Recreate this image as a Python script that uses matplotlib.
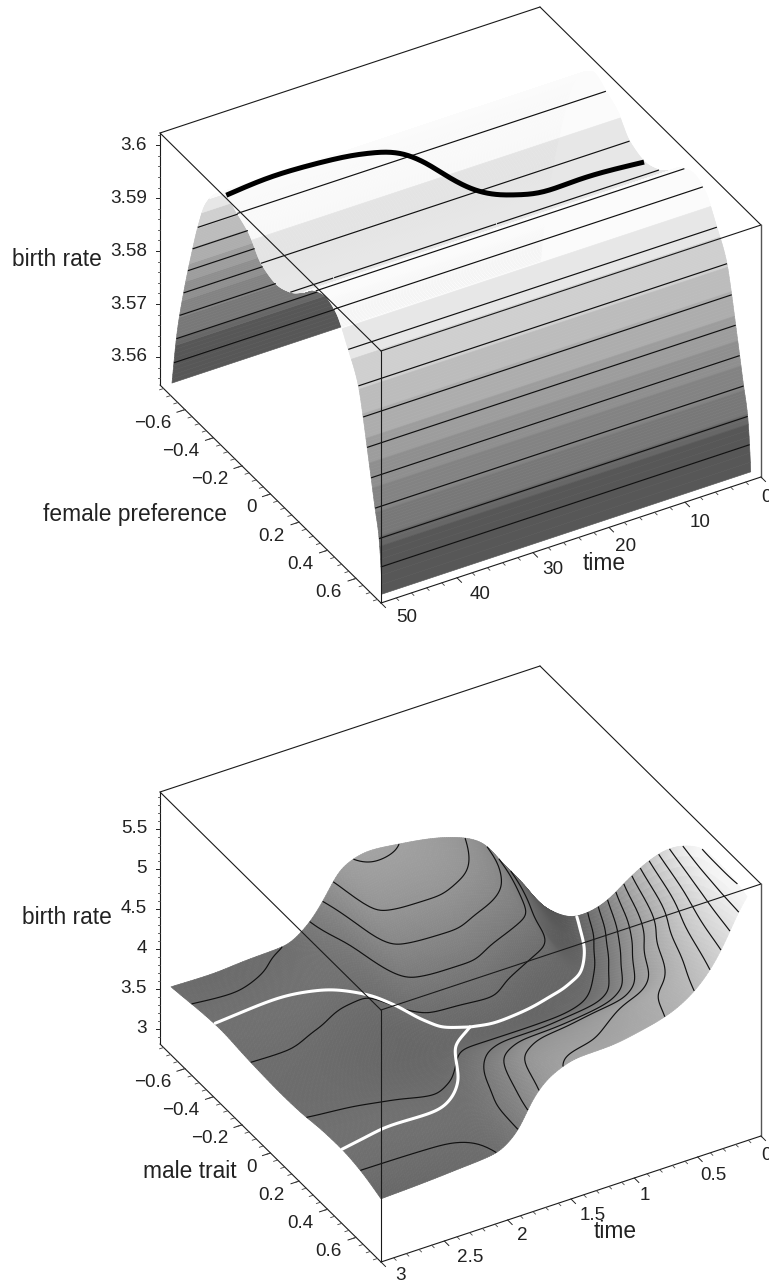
import numpy as np
import matplotlib
matplotlib.use("Agg")
import matplotlib.pyplot as plt
from matplotlib.collections import PolyCollection, LineCollection
from contourpy import contour_generator

plt.rcParams['font.family'] = ['Liberation Sans', 'DejaVu Sans']

# ---------- data: upper panel ----------
pref_values = [0.783, 0.775, 0.761, 0.733, 0.705, 0.677, 0.649, 0.614, 0.547, 0.456, 0.388, 0.301, 0.217,
               0.133, 0.039, -0.062, -0.155, -0.233, -0.31, -0.372, -0.459, -0.508, -0.558, -0.606, -0.656, -0.691]
rate_by_pref = [3.5566, 3.5615, 3.5668, 3.5715, 3.5766, 3.5816, 3.5866, 3.5918, 3.5964, 3.6013, 3.6023, 3.6012,
                3.5985, 3.5964, 3.5954, 3.5964, 3.6, 3.6015, 3.6028, 3.6015, 3.5971, 3.5918, 3.5847, 3.5771,
                3.5676, 3.5573]
top_time_range = [50, 1.5]
top_levels = [3.5615, 3.5665, 3.5715, 3.5765, 3.5815, 3.5865, 3.5915, 3.5965, 3.6015]
thick_time = [50, 43.4, 36.05, 31.6, 29.35, 27.85, 24.85, 22.3, 19.5, 15.15, 9.6, 0.85]
thick_pref = [-0.31, -0.279, -0.248, -0.233, -0.186, -0.124, -0.062, 0.0, 0.047, 0.047, 0.031, 0.0]
thick_rate = [3.6029, 3.6048, 3.6051, 3.6043, 3.6043, 3.6039, 3.6004, 3.5985, 3.5979, 3.5962, 3.5960, 3.5940]

# ---------- data: lower panel ----------
low_times = [3, 2.7, 2.4, 2.1, 1.92, 1.8, 1.65, 1.44, 1.2, 0.96, 0.72, 0.54, 0.39, 0.27, 0.18, 0.11]
low_traits = [0.775, 0.635, 0.496, 0.357, 0.217, 0.078, -0.062, -0.202, -0.341, -0.481, -0.62, -0.698]
low_rate = [
    [3.60, 3.70, 3.74, 3.73, 3.69, 3.68, 3.69, 3.71, 3.74, 3.72, 3.68, 3.66],
    [3.62, 3.70, 3.74, 3.73, 3.68, 3.67, 3.68, 3.72, 3.75, 3.72, 3.67, 3.65],
    [3.65, 3.70, 3.75, 3.72, 3.66, 3.64, 3.65, 3.70, 3.76, 3.74, 3.69, 3.68],
    [3.69, 3.72, 3.74, 3.70, 3.64, 3.60, 3.62, 3.66, 3.74, 3.78, 3.74, 3.70],
    [3.88, 3.88, 3.80, 3.73, 3.64, 3.60, 3.60, 3.66, 3.73, 3.80, 3.85, 3.87],
    [4.22, 4.06, 3.94, 3.82, 3.68, 3.60, 3.62, 3.72, 3.80, 3.87, 4.00, 4.10],
    [4.44, 4.37, 4.20, 3.95, 3.78, 3.60, 3.67, 3.87, 4.10, 4.32, 4.42, 4.44],
    [4.55, 4.43, 4.30, 4.03, 3.80, 3.58, 3.68, 3.90, 4.14, 4.36, 4.48, 4.54],
    [4.56, 4.47, 4.33, 4.04, 3.80, 3.58, 3.70, 3.90, 4.15, 4.36, 4.47, 4.50],
    [4.62, 4.54, 4.38, 4.07, 3.82, 3.57, 3.62, 3.80, 4.06, 4.30, 4.42, 4.44],
    [4.72, 4.67, 4.43, 4.13, 3.85, 3.62, 3.58, 3.70, 3.96, 4.17, 4.29, 4.33],
    [4.88, 4.78, 4.56, 4.27, 3.95, 3.71, 3.58, 3.63, 3.85, 4.00, 4.13, 4.17],
    [5.12, 4.98, 4.82, 4.63, 4.30, 3.95, 3.65, 3.50, 3.45, 3.65, 3.80, 3.85],
    [5.42, 5.32, 5.15, 4.88, 4.55, 4.25, 3.92, 3.60, 3.40, 3.45, 3.55, 3.60],
    [5.70, 5.62, 5.45, 5.18, 4.85, 4.50, 4.15, 3.78, 3.50, 3.32, 3.35, 3.40],
    [5.86, 5.93, 5.93, 5.76, 5.47, 5.07, 4.60, 4.10, 3.70, 3.40, 3.25, 3.20],
]
low_levels = [3.7, 3.9, 4.1, 4.3, 4.5, 4.7, 4.9, 5.1, 5.3, 5.5, 5.7, 5.9]
white_main = ([0.11, 0.21, 0.39, 0.6, 0.78, 1.02, 1.26, 1.47],
              [-0.419, -0.31, -0.116, 0.015, 0.039, 0.039, 0.039, 0.039],
              [3.51, 3.62, 3.73, 3.77, 3.72, 3.63, 3.60, 3.65])
white_far = ([1.47, 1.64, 1.71, 1.82, 1.93, 2.2, 2.48, 3.0],
             [0.039, 0.0, -0.078, -0.186, -0.279, -0.341, -0.372, -0.388],
             [3.65, 3.67, 3.66, 3.72, 3.74, 3.83, 3.84, 3.75])
white_near = ([1.47, 1.68, 1.815, 2.08, 2.66, 3.0],
              [0.039, 0.124, 0.263, 0.388, 0.465, 0.502],
              [3.65, 3.66, 3.56, 3.58, 3.74, 3.74])

# ---------- tick labels ----------
z_ticks_top = [3.56, 3.57, 3.58, 3.59, 3.60]
z_labels_top = ['3.56', '3.57', '3.58', '3.59', '3.6']
z_ticks_low = [3, 3.5, 4, 4.5, 5, 5.5]
z_labels_low = ['3', '3.5', '4', '4.5', '5', '5.5']
x_ticks = [-0.6, -0.4, -0.2, 0, 0.2, 0.4, 0.6]
x_labels = ['\u22120.6', '\u22120.4', '\u22120.2', '0', '0.2', '0.4', '0.6']
t_ticks_top = [50, 40, 30, 20, 10, 0]
t_labels_top = ['50', '40', '30', '20', '10', '0']
t_off_top = [(26, 15), (23, 17), (20, 17), (17, 19), (15, 20), (6, 20)]
t_ticks_low = [3, 2.5, 2, 1.5, 1, 0.5, 0]
t_labels_low = ['3', '2.5', '2', '1.5', '1', '0.5', '0']
t_off_low = [(20, 14), (26, 16), (15, 16), (22, 17), (10, 18), (16, 18), (5, 19)]

# ---------- projection ----------
VT = np.array([380.0, -126.0])
VX = np.array([-221.0, -218.0])
VZ = -252.0
XHI = 0.775


class Panel:
    def __init__(self, fy, tmax, z0, z1):
        self.F = np.array([381.0, fy])
        self.tmax, self.z0, self.z1 = tmax, z0, z1

    def unit(self, t, x, z):
        return ((self.tmax - np.asarray(t, float)) / self.tmax,
                (XHI - np.asarray(x, float)) / (2 * XHI),
                (np.asarray(z, float) - self.z0) / (self.z1 - self.z0))

    def px(self, a, b, c):
        return (self.F[0] + VT[0] * a + VX[0] * b,
                self.F[1] + VT[1] * a + VX[1] * b + VZ * c)


def refine(knots, values, fine):
    """Monotone cubic rendering of a read-off profile onto a finer mesh."""
    k = np.asarray(knots, float)
    v = np.asarray(values, float)
    h = np.diff(k)
    d = np.diff(v) / h
    m = np.zeros_like(v)
    m[0], m[-1] = d[0], d[-1]
    for i in range(1, len(v) - 1):
        if d[i - 1] * d[i] > 0:
            w1, w2 = 2 * h[i] + h[i - 1], h[i] + 2 * h[i - 1]
            m[i] = (w1 + w2) / (w1 / d[i - 1] + w2 / d[i])
    idx = np.clip(np.searchsorted(k, fine) - 1, 0, len(k) - 2)
    s = (fine - k[idx]) / h[idx]
    return ((2 * s**3 - 3 * s**2 + 1) * v[idx] + (s**3 - 2 * s**2 + s) * h[idx] * m[idx]
            + (-2 * s**3 + 3 * s**2) * v[idx + 1] + (s**3 - s**2) * h[idx] * m[idx + 1])


def soften(v, sigma):
    """Remove the small kinks of a hand-read curve when it is drawn."""
    r = int(3 * sigma) + 1
    w = np.exp(-0.5 * (np.arange(-r, r + 1) / sigma) ** 2)
    w /= w.sum()
    return np.convolve(np.pad(v, r, mode='reflect', reflect_type='odd'), w, mode='valid')


def draw_surface(ax, panel, a_f, b_f, C, gray, level_c, a_depth, b_depth, C_depth, tol, min_run):
    A, B = np.meshgrid(a_f, b_f, indexing='ij')
    sx, sy = panel.px(A, B, C)
    quad = np.stack([np.stack([sx[:-1, :-1], sy[:-1, :-1]], -1), np.stack([sx[1:, :-1], sy[1:, :-1]], -1),
                     np.stack([sx[1:, 1:], sy[1:, 1:]], -1), np.stack([sx[:-1, 1:], sy[:-1, 1:]], -1)], 2)
    quad = quad.reshape(-1, 4, 2)
    mid_c = 0.25 * (C[:-1, :-1] + C[1:, :-1] + C[1:, 1:] + C[:-1, 1:])
    mid_d = (A[:-1, :-1] + B[:-1, :-1]).ravel()
    g = gray(mid_c).ravel()
    order = np.argsort(-mid_d, kind='stable')
    cols = np.stack([g, g, g], 1)[order]
    ax.add_collection(PolyCollection(quad[order], facecolors=cols, edgecolors=cols, linewidths=0.45, zorder=2))

    # visibility buffer for the contour lines
    AD, BD = np.meshgrid(a_depth, b_depth, indexing='ij')
    dx, dy = panel.px(AD, BD, C_depth)
    buf = np.full((1285, 769), np.inf)
    ix = np.clip(dx.astype(int), 0, 768)
    iy = np.clip(dy.astype(int), 0, 1284)
    np.minimum.at(buf, (iy, ix), AD + BD)

    cg = contour_generator(x=b_f, y=a_f, z=C)
    segs = []
    for lev in level_c:
        for line in cg.lines(lev):
            if len(line) < 2:
                continue
            seg_len = np.hypot(*np.diff(line, axis=0).T)
            dist = np.r_[0, np.cumsum(seg_len)]
            n = max(int(dist[-1] * 400), 2)
            u = np.linspace(0, dist[-1], n)
            bb = np.interp(u, dist, line[:, 0])
            aa = np.interp(u, dist, line[:, 1])
            px, py = panel.px(aa, bb, lev)
            vis = (aa + bb) <= buf[np.clip(py.astype(int), 0, 1284), np.clip(px.astype(int), 0, 768)] + tol
            start = None
            for i, ok in enumerate(vis):
                if ok and start is None:
                    start = i
                if (not ok or i == n - 1) and start is not None:
                    run = np.column_stack([px[start:i + 1], py[start:i + 1]])
                    if len(run) > 1 and np.hypot(*np.diff(run, axis=0).T).sum() >= min_run:
                        segs.append(run)
                    start = None
    ax.add_collection(LineCollection(segs, colors='#111111', linewidths=0.85, zorder=3))


def draw_box(ax, panel, z_ticks, z_labels, z_minor, t_ticks, t_labels, t_off, t_minor, zlabel, ylabel, ylabel_xy,
             timelabel_xy, zlabel_xy):
    def P(a, b, c):
        return panel.px(a, b, c)
    edges = [((0, 1, 1), (1, 1, 1)), ((1, 1, 1), (1, 0, 1)), ((1, 0, 1), (0, 0, 1)), ((0, 0, 1), (0, 1, 1)),
             ((0, 1, 1), (0, 1, 0)), ((0, 0, 1), (0, 0, 0)), ((0, 1, 0), (0, 0, 0)), ((0, 0, 0), (1, 0, 0))]
    for p, q in edges:
        x1, y1 = P(*p)
        x2, y2 = P(*q)
        ax.plot([x1, x2], [y1, y2], color='#1a1a1a', lw=0.8, zorder=6, solid_capstyle='round')
    x1, y1 = P(1, 0, 1)
    x2, y2 = P(1, 0, 0)
    ax.plot([x1, x2], [y1, y2], color='#555555', lw=1.0, zorder=6)

    # vertical axis
    for z, lab in zip(z_ticks, z_labels):
        _, _, c = panel.unit(0, 0, z)
        x, y = P(0, 1, c)
        ax.plot([x - 4.5, x], [y, y], color='#222222', lw=0.7, zorder=6)
        ax.text(147, y, lab, ha='right', va='center', fontsize=13.6, color='#222222')
    for z in z_minor:
        _, _, c = panel.unit(0, 0, z)
        x, y = P(0, 1, c)
        ax.plot([x - 2.5, x], [y, y], color='#444444', lw=0.6, zorder=6)

    # trait axis
    for v, lab in zip(x_ticks, x_labels):
        _, b, _ = panel.unit(0, v, panel.z0)
        x, y = P(0, b, 0)
        ax.plot([x - 8, x], [y + 2.6, y], color='#222222', lw=0.7, zorder=6)
        ax.text(x - 14, y + 14, lab, ha='right', va='center', fontsize=13.6, color='#222222')
    for v in np.arange(-0.75, 0.76, 0.05):
        _, b, _ = panel.unit(0, v, panel.z0)
        x, y = P(0, b, 0)
        ax.plot([x - 4, x], [y + 1.3, y], color='#444444', lw=0.6, zorder=6)

    # time axis
    for v, lab, off in zip(t_ticks, t_labels, t_off):
        a, _, _ = panel.unit(v, 0, panel.z0)
        x, y = P(a, 0, 0)
        ax.plot([x, x + 4.5], [y, y + 4.5], color='#222222', lw=0.7, zorder=6)
        ax.text(x + off[0], y + off[1], lab, ha='center', va='center', fontsize=13.6, color='#222222',
                clip_on=True)
    for v in t_minor:
        a, _, _ = panel.unit(v, 0, panel.z0)
        x, y = P(a, 0, 0)
        ax.plot([x, x + 2.5], [y, y + 2.5], color='#444444', lw=0.6, zorder=6)

    ax.text(zlabel_xy[0], zlabel_xy[1], zlabel, ha='left', va='center', fontsize=16.4, color='#222222')
    ax.text(ylabel_xy[0], ylabel_xy[1], ylabel, ha='right', va='center', fontsize=16.4, color='#222222')
    ax.text(timelabel_xy[0], timelabel_xy[1], 'time', ha='center', va='center', fontsize=16.4, color='#222222',
            zorder=7)


fig = plt.figure(figsize=(7.69, 12.85), dpi=100)
ax = fig.add_axes([0, 0, 1, 1])
ax.set_xlim(0, 769)
ax.set_ylim(1285, 0)
ax.axis('off')

# ---------- upper surface ----------
top = Panel(603.0, 50.0, 3.5547, 3.6023)
_, b_k, c_k = top.unit(0, pref_values, rate_by_pref)
a_lim = top.unit(np.array(top_time_range), 0, top.z0)[0]
b_f = np.linspace(b_k[0], b_k[-1], 520)
prof = soften(refine(b_k, c_k, b_f), 1.5)
C_top = np.vstack([prof, prof])


def gray_top(c):
    bands = np.floor(c / 0.085) * 0.085 + 0.0425
    g = np.interp(bands, [0.21, 0.25, 0.4, 0.5, 0.6, 0.78, 0.88, 0.95, 1.05],
                  [0.40, 0.45, 0.52, 0.58, 0.65, 0.78, 0.89, 0.98, 1.0])
    return np.where(c < 0.215, 0.34, g)


draw_surface(ax, top, a_lim, b_f, C_top, gray_top, top.unit(0, 0, np.array(top_levels))[2],
             np.linspace(a_lim[0], a_lim[1], 800), b_f, np.tile(prof, (800, 1)), 0.012, 30)
ta, tb, tc = top.unit(thick_time, thick_pref, thick_rate)
s = np.linspace(0, 1, 220)
u = np.linspace(0, 1, len(ta))
xs, ys = top.px(soften(refine(u, ta, s), 7), soften(refine(u, tb, s), 7), soften(refine(u, tc, s), 7))
ax.plot(xs, ys, color='black', lw=3.6, zorder=5, solid_capstyle='butt')

draw_box(ax, top, z_ticks_top, z_labels_top, [3.556 + 0.002 * i for i in range(24) if (i % 5) != 2],
         t_ticks_top, t_labels_top, t_off_top, [v for v in range(0, 51, 2) if v % 10],
         'birth rate', 'female preference', (227, 515), (604, 563), (12, 260))

# ---------- lower surface ----------
low = Panel(1262.0, 3.0, 2.81, 5.96)
a_k = low.unit(low_times, 0, low.z0)[0]
b_k2 = low.unit(0, low_traits, low.z0)[1]
c_grid = low.unit(0, 0, np.array(low_rate))[2]


def refine_grid(af, bf):
    g1 = np.array([refine(b_k2, row, bf) for row in c_grid])
    g2 = np.array([refine(a_k, g1[:, j], af) for j in range(g1.shape[1])]).T
    sa = 0.014 / (af[1] - af[0])
    sb = 0.024 / (bf[1] - bf[0])
    g2 = np.apply_along_axis(soften, 0, g2, sa)
    g2 = np.apply_along_axis(soften, 1, g2, sb)
    return g2


a_f = np.linspace(a_k[0], a_k[-1], 190)
b_f2 = np.linspace(b_k2[0], b_k2[-1], 150)
C_low = refine_grid(a_f, b_f2)
a_d = np.linspace(a_k[0], a_k[-1], 800)
b_d = np.linspace(b_k2[0], b_k2[-1], 600)
C_d = refine_grid(a_d, b_d)


def gray_low(c):
    z = low.z0 + c * (low.z1 - low.z0)
    return np.clip(0.43 + 0.25 * (z - 3.7), 0.3, 0.96)


draw_surface(ax, low, a_f, b_f2, C_low, gray_low, low.unit(0, 0, np.array(low_levels))[2], a_d, b_d, C_d, 0.05, 14)

for tt, xx, zz in (white_far, white_near, white_main):
    wa, wb, wc = low.unit(tt, xx, zz)
    u = np.linspace(0, 1, len(wa))
    s = np.linspace(0, 1, 120)
    xs, ys = low.px(soften(refine(u, wa, s), 3), soften(refine(u, wb, s), 3), soften(refine(u, wc, s), 3))
    ax.plot(xs, ys, color='white', lw=2.2, zorder=4, solid_capstyle='round')

draw_box(ax, low, z_ticks_low, z_labels_low, [2.9 + 0.1 * i for i in range(31) if (i % 5) != 1],
         t_ticks_low, t_labels_low, t_off_low, [v / 10 for v in range(0, 31) if v % 5],
         'birth rate', 'male trait', (237, 1172), (615, 1232), (22, 918))

fig.savefig('out.png', dpi=100)
